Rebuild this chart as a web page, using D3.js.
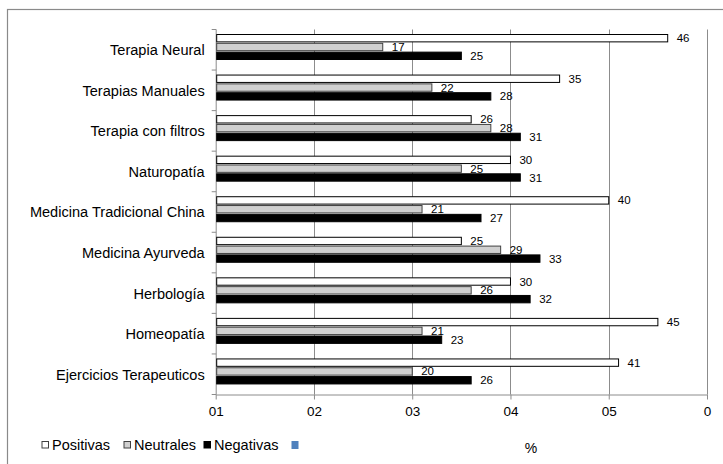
<!DOCTYPE html>
<html><head><meta charset="utf-8">
<script src="https://cdn.jsdelivr.net/npm/d3@7"></script>
<style>body{margin:0;background:#fff}svg{display:block;font-family:"Liberation Sans",Arial,sans-serif}</style>
</head><body><svg id="c" width="723" height="464"></svg>
<script>
const categories = ["Terapia Neural","Terapias Manuales","Terapia con filtros","Naturopatía","Medicina Tradicional China","Medicina Ayurveda","Herbología","Homeopatía","Ejercicios Terapeuticos"];
const positivas = [46,35,26,30,40,25,30,45,41];
const neutrales = [17,22,28,25,21,29,26,21,20];
const negativas = [25,28,31,31,27,33,32,23,26];
const seriesNames = ["Positivas","Neutrales","Negativas"];
const tickValues = [0,10,20,30,40,50];
const tickLabels = ["01","02","03","04","05","0"];
const axisTitle = "%";

(function(){
const svg = d3.select("#c");
svg.append("rect").attr("x",7.5).attr("y",9.5).attr("width",730).attr("height",470)
  .attr("fill","#fff").attr("stroke","#8a8a8a").attr("stroke-width",1.2);

const x = d3.scaleLinear().domain([0,50]).range([215.7,707]);
const y = d3.scaleBand().domain(categories).range([29.5,394.5]);
const plotTop = 29.5, plotBottom = 394.5;
const bw = y.bandwidth();
const sub = d3.scaleBand().domain(seriesNames).range([4.5, 30.5]).paddingInner(0.05);

svg.append("g").selectAll("line").data(tickValues.slice(1)).join("line")
  .attr("x1",d=>Math.round(x(d))+0.5).attr("x2",d=>Math.round(x(d))+0.5)
  .attr("y1",plotTop).attr("y2",plotBottom).attr("stroke","#8c8c8c").attr("stroke-width",1);

const xa = svg.append("g").attr("transform",`translate(0,${plotBottom})`)
  .call(d3.axisBottom(x).tickValues(tickValues).tickFormat((d,i)=>tickLabels[i]).tickSize(5).tickSizeOuter(0));
xa.select(".domain").attr("stroke","#8c8c8c");
xa.selectAll(".tick line").attr("stroke","#8c8c8c");
xa.selectAll("text").attr("font-size",13.5).attr("fill","#000").attr("dy","1.0em").attr("font-family","Liberation Sans, Arial, sans-serif");

const ya = svg.append("g").attr("transform",`translate(${x(0)},0)`);
ya.append("line").attr("x1",0.5).attr("x2",0.5).attr("y1",plotTop).attr("y2",plotBottom).attr("stroke","#8c8c8c");
ya.selectAll("line.t").data(d3.range(categories.length+1)).join("line").attr("class","t")
  .attr("x1",-4).attr("x2",0.5).attr("y1",i=>plotTop+i*bw).attr("y2",i=>plotTop+i*bw).attr("stroke","#8c8c8c");
ya.selectAll("text").data(categories).join("text")
  .attr("transform",d=>`translate(-11,${y(d)+bw*0.5}) scale(0.94,1)`)
  .attr("dy","0.35em").attr("text-anchor","end")
  .attr("font-size",15.5).attr("fill","#000").text(d=>d);

const styles = {
  Positivas:{fill:"#ffffff",stroke:"#000"},
  Neutrales:{fill:"#d0d0d0",stroke:"#404040"},
  Negativas:{fill:"#000000",stroke:"#000"}
};
const data = [];
categories.forEach((c,i)=>{
  data.push({c,s:"Positivas",v:positivas[i]});
  data.push({c,s:"Neutrales",v:neutrales[i]});
  data.push({c,s:"Negativas",v:negativas[i]});
});
const g = svg.append("g");
g.selectAll("rect").data(data).join("rect")
  .attr("x",x(0)+1).attr("y",d=>y(d.c)+sub(d.s)+0.5)
  .attr("width",d=>x(d.v)-x(0)-1).attr("height",sub.bandwidth()-1)
  .attr("fill",d=>styles[d.s].fill).attr("stroke",d=>styles[d.s].stroke).attr("stroke-width",1);
g.selectAll("text").data(data).join("text")
  .attr("x",d=>x(d.v)+9).attr("y",d=>y(d.c)+sub(d.s)+sub.bandwidth()/2)
  .attr("dy","0.35em").attr("font-size",11.5).attr("fill","#000").text(d=>d.v);

const leg = svg.append("g");
const legX = [41.5,123.5,203.5];
seriesNames.forEach((s,i)=>{
  leg.append("rect").attr("x",legX[i]+0.5).attr("y",441.5).attr("width",6.5).attr("height",6.5)
    .attr("fill",styles[s].fill).attr("stroke",i===2?"#000":"#404040").attr("stroke-width",1);
  leg.append("text").attr("x",legX[i]+10.5).attr("y",445).attr("dy","0.35em")
    .attr("font-size",14.5).attr("fill","#000").text(s);
});
leg.append("rect").attr("x",291.5).attr("y",441).attr("width",7).attr("height",8).attr("fill","#4f81bd");
svg.append("text").attr("x",531).attr("y",448.5).attr("dy","0.35em").attr("text-anchor","middle")
  .attr("font-size",14).attr("fill","#000").text(axisTitle);
})();
</script></body></html>
